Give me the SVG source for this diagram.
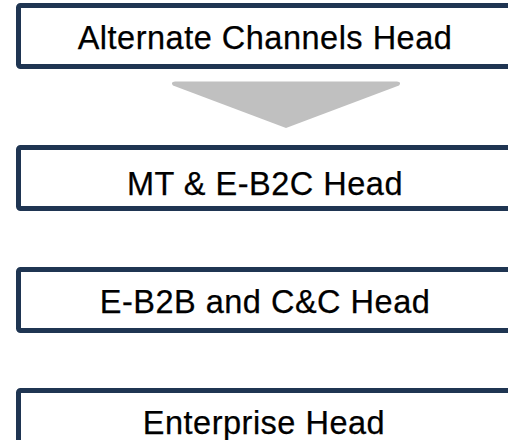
<svg xmlns="http://www.w3.org/2000/svg" width="508" height="440" viewBox="0 0 508 440">
<style>
.box{fill:#ffffff;stroke:#1f3552;stroke-width:5;stroke-linejoin:round}
.lbl{font-family:"Liberation Sans",Arial,Helvetica,sans-serif;font-size:32.5px;letter-spacing:0.5px;fill:#000000;text-anchor:middle;stroke:#000000;stroke-width:0.25}
.arrow{fill:#c0c0c0}
</style>
<rect x="0" y="0" width="508" height="440" fill="#ffffff"/>
<g id="node-alternate-channels-head">
<rect class="box" x="18.5" y="5.5" width="500" height="61" rx="2"/>
<text class="lbl" x="265" y="48.5">Alternate Channels Head</text>
</g>
<g id="connectors">
<path class="arrow" d="M175,81.5 L397,81.5 Q402,82 399,85.5 L286,128 L173,85.5 Q170,82 175,81.5 Z"/>
</g>
<g id="node-mt-eb2c-head">
<rect class="box" x="18.5" y="147.5" width="500" height="61" rx="2"/>
<text class="lbl" x="265" y="195">MT &amp; E-B2C Head</text>
</g>
<g id="node-eb2b-cc-head">
<rect class="box" x="18.5" y="269.5" width="500" height="61" rx="2"/>
<text class="lbl" x="265" y="313.3">E-B2B and C&amp;C Head</text>
</g>
<g id="node-enterprise-head">
<rect class="box" x="18.5" y="390.5" width="500" height="61" rx="2"/>
<text class="lbl" x="264" y="434.3">Enterprise Head</text>
</g>
</svg>
